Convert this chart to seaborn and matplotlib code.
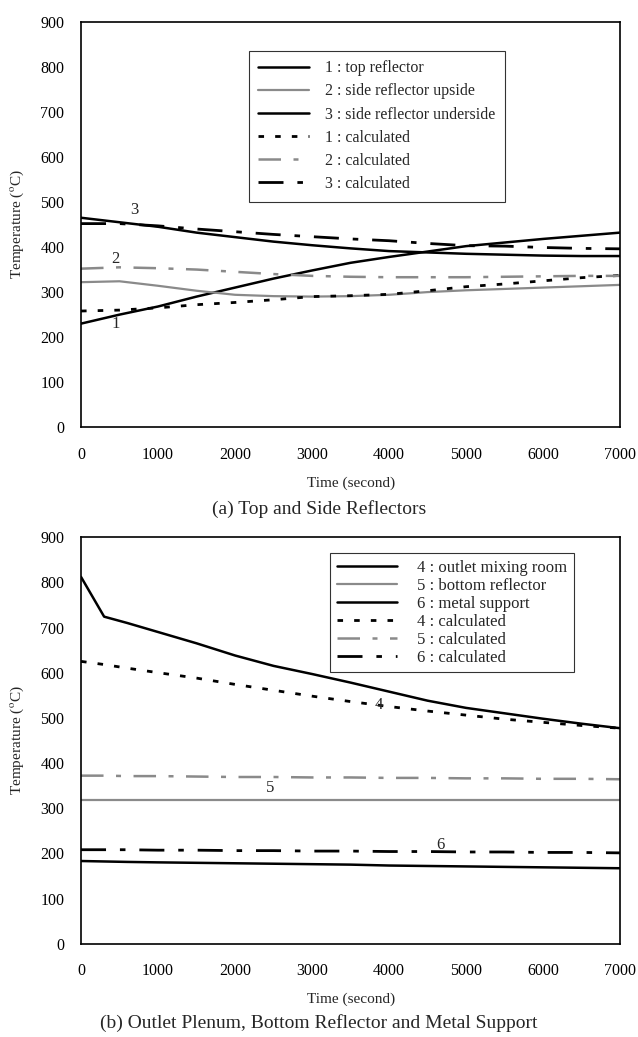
import numpy as np
import pandas as pd
import matplotlib
matplotlib.use("Agg")
import matplotlib.pyplot as plt
import seaborn as sns

sns.set_style("white")
plt.rcParams['font.family'] = ['Liberation Serif', 'DejaVu Serif']
plt.rcParams['mathtext.fontset'] = 'stix'

# ---------------- data (a) ----------------
t_a = [0, 500, 1000, 1500, 2000, 2500, 3000, 3500, 4000, 4500, 5000, 5500, 6000, 6500, 7000]
top_reflector = [230, 250, 268, 290, 310, 330, 348, 365, 378, 390, 402, 410, 418, 425, 432]
side_upside = [322, 324, 314, 303, 294, 291, 290, 291, 294, 300, 304, 307, 310, 313, 316]
side_underside = [465, 455, 445, 432, 422, 412, 404, 397, 391, 388, 385, 383, 381, 380, 380]
calc_1 = [258, 260, 265, 272, 277, 283, 290, 292, 295, 303, 312, 318, 325, 332, 337]
calc_2 = [352, 355, 353, 350, 345, 340, 336, 334, 333, 333, 333, 334, 335, 336, 336]
calc_3 = [452, 452, 447, 440, 434, 428, 423, 418, 414, 408, 403, 402, 399, 397, 396]

# ---------------- data (b) ----------------
t_b = [0, 300, 600, 1000, 1500, 2000, 2500, 3000, 3500, 4000, 4500, 5000, 5500, 6000, 6500, 7000]
outlet_mixing = [812, 724, 710, 690, 665, 638, 615, 597, 578, 558, 538, 522, 510, 498, 487, 477]
calc_4 = [625, 618, 610, 600, 588, 574, 561, 548, 536, 525, 515, 506, 497, 490, 483, 477]
bottom_reflector = [318, 318, 318, 318, 318, 318, 318, 318, 318, 318, 318, 318, 318, 318, 318, 318]
calc_5 = [372, 372, 371, 371, 370, 369, 369, 368, 368, 367, 367, 366, 366, 365, 365, 364]
metal_support = [183, 182, 181, 180, 179, 178, 177, 176, 175, 173, 172, 171, 170, 169, 168, 167]
calc_6 = [208, 208, 208, 207, 207, 206, 206, 205, 205, 204, 204, 203, 203, 202, 202, 201]

labels_a = ["1 : top reflector", "2 : side reflector upside", "3 : side reflector underside",
            "1 : calculated", "2 : calculated", "3 : calculated"]
labels_b = ["4 : outlet mixing room", "5 : bottom reflector", "6 : metal support",
            "4 : calculated", "5 : calculated", "6 : calculated"]

GRAY = "#8a8a8a"
styles = [
    dict(color="black", lw=1.8, ls="-"),
    dict(color=GRAY, lw=1.6, ls="-"),
    dict(color="black", lw=1.8, ls="-"),
    dict(color="black", lw=2.0, ls=(0, (2, 4))),
    dict(color=GRAY, lw=1.8, ls=(0, (9, 5, 2, 5))),
    dict(color="black", lw=2.0, ls=(0, (9, 5, 2, 5))),
]

fig = plt.figure(figsize=(6.38, 10.37), dpi=100)
ax1 = fig.add_axes([0.127, 0.588, 0.845, 0.391])
ax2 = fig.add_axes([0.127, 0.090, 0.845, 0.392])


def draw(ax, t, series, labels):
    for y, lab, st in zip(series, labels, styles):
        df = pd.DataFrame({"t": t, "y": y})
        sns.lineplot(data=df, x="t", y="y", ax=ax, label=lab, color=st["color"],
                     linewidth=st["lw"], linestyle=st["ls"])
    ax.set_xlim(0, 7000)
    ax.set_ylim(0, 900)
    ax.set_xticks(range(0, 7001, 1000))
    ax.set_yticks(range(0, 901, 100))
    ax.tick_params(axis="y", labelsize=11.5, length=2, direction="in", pad=12, colors="black")
    ax.tick_params(axis="x", labelsize=11.5, length=2, direction="in", pad=14, colors="black")
    for s in ax.spines.values():
        s.set_color("black")
        s.set_linewidth(1.2)
    ax.set_xlabel("Time (second)", fontsize=11, labelpad=10)
    ax.set_ylabel(r"Temperature ($^{\mathrm{o}}$C)", fontsize=11, labelpad=10)


draw(ax1, t_a, [top_reflector, side_upside, side_underside, calc_1, calc_2, calc_3], labels_a)
draw(ax2, t_b, [outlet_mixing, bottom_reflector, metal_support, calc_4, calc_5, calc_6], labels_b)

leg1 = ax1.legend(loc="upper left", bbox_to_anchor=(0.311, 0.929), fontsize=11.5, frameon=True,
                  fancybox=False, edgecolor="black", handlelength=3.2, labelspacing=0.45,
                  borderpad=0.6, handletextpad=1.0, borderaxespad=0)
leg1.get_frame().set_linewidth(0.8)
leg2 = ax2.legend(loc="upper left", bbox_to_anchor=(0.462, 0.961), fontsize=12, frameon=True,
                  fancybox=False, edgecolor="black", handlelength=3.6, labelspacing=0.12,
                  borderpad=0.4, handletextpad=1.2, borderaxespad=0)
leg2.get_frame().set_linewidth(0.8)

# curve number annotations
ax1.text(690, 483, "3", fontsize=12, ha="center", va="center")
ax1.text(440, 374, "2", fontsize=12, ha="center", va="center")
ax1.text(450, 229, "1", fontsize=12, ha="center", va="center")
ax2.text(3870, 528, "4", fontsize=12, ha="center", va="center")
ax2.text(2450, 344, "5", fontsize=12, ha="center", va="center")
ax2.text(4670, 219, "6", fontsize=12, ha="center", va="center")

fig.text(0.5, 0.509, "(a) Top and Side Reflectors", fontsize=14, ha="center", va="center")
fig.text(0.5, 0.0135, "(b) Outlet Plenum, Bottom Reflector and Metal Support", fontsize=14,
         ha="center", va="center")

fig.savefig("out.png", dpi=100, facecolor="white")
